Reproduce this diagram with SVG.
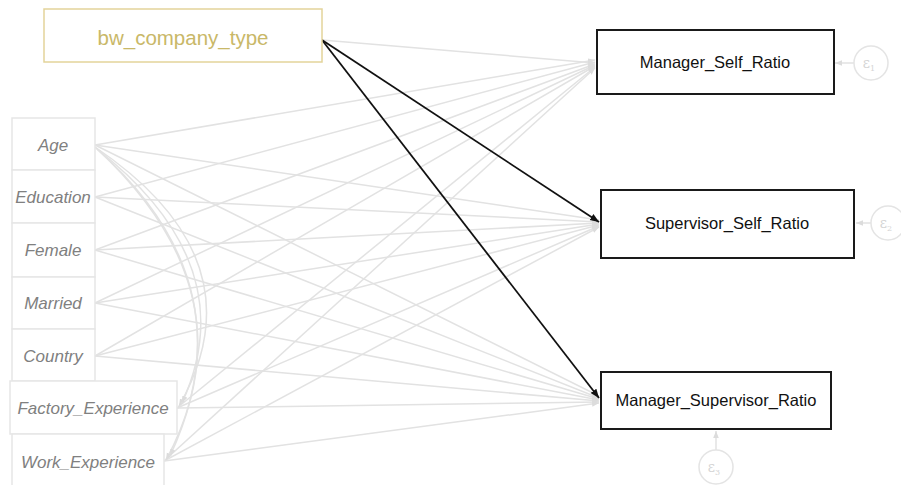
<svg xmlns="http://www.w3.org/2000/svg" width="901" height="485" viewBox="0 0 901 485">
<defs>
<marker id="ag" viewBox="0 0 10 10" refX="10" refY="5" markerWidth="7" markerHeight="7" orient="auto" markerUnits="userSpaceOnUse"><path d="M0,1 L10,5 L0,9 z" fill="#dcdcdc"/></marker>
<marker id="ab" viewBox="0 0 10 10" refX="10" refY="5" markerWidth="9" markerHeight="9" orient="auto" markerUnits="userSpaceOnUse"><path d="M0,1 L10,5 L0,9 z" fill="#111"/></marker>
</defs>
<style>
.g{stroke:#e2e2e2;stroke-width:1.5;fill:none;marker-end:url(#ag)}
.k{stroke:#111;stroke-width:1.8;fill:none;marker-end:url(#ab)}
.lb{fill:#fff;stroke:#e6e6e6;stroke-width:1.5}
.lt{font-family:"Liberation Sans",Arial,sans-serif;font-style:italic;font-size:17px;fill:#808080;text-anchor:middle}
.rb{fill:#fff;stroke:#1a1a1a;stroke-width:2}
.rt{font-family:"Liberation Sans",Arial,sans-serif;font-size:16.5px;fill:#111;text-anchor:middle}
.ec{fill:#fff;stroke:#e4e4e4;stroke-width:1.5}
.et{font-family:"DejaVu Serif",serif;font-size:14px;fill:#d4d4d4;text-anchor:middle}
</style>
<g id="connectors">
<line class="g" x1="322" y1="40" x2="595" y2="63"/>
<line class="g" x1="95" y1="145" x2="595" y2="60"/>
<line class="g" x1="95" y1="145" x2="599" y2="220"/>
<line class="g" x1="95" y1="145" x2="599" y2="396"/>
<line class="g" x1="95" y1="197" x2="595" y2="62"/>
<line class="g" x1="95" y1="197" x2="599" y2="222"/>
<line class="g" x1="95" y1="197" x2="599" y2="398"/>
<line class="g" x1="95" y1="250" x2="595" y2="64"/>
<line class="g" x1="95" y1="250" x2="599" y2="223"/>
<line class="g" x1="95" y1="250" x2="599" y2="399"/>
<line class="g" x1="95" y1="303" x2="595" y2="65"/>
<line class="g" x1="95" y1="303" x2="599" y2="224"/>
<line class="g" x1="95" y1="303" x2="599" y2="400"/>
<line class="g" x1="95" y1="356" x2="595" y2="66"/>
<line class="g" x1="95" y1="356" x2="599" y2="225"/>
<line class="g" x1="95" y1="356" x2="599" y2="401"/>
<line class="g" x1="177" y1="408" x2="595" y2="67"/>
<line class="g" x1="177" y1="408" x2="599" y2="226"/>
<line class="g" x1="177" y1="408" x2="599" y2="402"/>
<line class="g" x1="164" y1="461" x2="595" y2="68"/>
<line class="g" x1="164" y1="461" x2="599" y2="227"/>
<line class="g" x1="164" y1="461" x2="599" y2="403"/>
<path class="g" d="M95,147 Q262,260 179,406"/>
<path class="g" d="M95,147 Q255,295 166,460"/>
<path class="g" d="M97,149 Q250,285 170,456"/>
<path class="g" d="M97,149 Q245,265 182,403"/>
<line class="k" x1="322" y1="40" x2="599" y2="222"/>
<line class="k" x1="322" y1="40" x2="599" y2="398"/>
<line class="g" x1="854" y1="63" x2="835" y2="63"/>
<line class="g" x1="871" y1="223" x2="856" y2="223"/>
<line class="g" x1="716" y1="450" x2="716" y2="431"/>
</g>
<g id="bw_company_type"><rect x="44" y="9" width="278" height="53" fill="#fff" stroke="#e3d49a" stroke-width="1.5"/><text x="183" y="45" font-family="Liberation Sans,Arial,sans-serif" font-size="20.5" fill="#c9b868" text-anchor="middle">bw_company_type</text></g>
<g id="Age"><rect class="lb" x="12" y="118" width="83" height="52"/><text class="lt" x="53" y="151">Age</text></g>
<g id="Education"><rect class="lb" x="12" y="170" width="83" height="53"/><text class="lt" x="53" y="203">Education</text></g>
<g id="Female"><rect class="lb" x="12" y="223" width="83" height="54"/><text class="lt" x="53" y="256">Female</text></g>
<g id="Married"><rect class="lb" x="12" y="277" width="83" height="52"/><text class="lt" x="53" y="309">Married</text></g>
<g id="Country"><rect class="lb" x="12" y="329" width="83" height="52"/><text class="lt" x="53" y="362">Country</text></g>
<g id="Factory_Experience"><rect class="lb" x="10" y="381" width="167" height="53"/><text class="lt" x="93" y="414">Factory_Experience</text></g>
<g id="Work_Experience"><rect class="lb" x="12" y="434" width="152" height="52"/><text class="lt" x="88" y="468">Work_Experience</text></g>
<g id="Manager_Self_Ratio"><rect class="rb" x="597" y="30" width="237" height="64"/><text class="rt" x="715" y="68">Manager_Self_Ratio</text></g>
<g id="Supervisor_Self_Ratio"><rect class="rb" x="601" y="190" width="253" height="68"/><text class="rt" x="727" y="229">Supervisor_Self_Ratio</text></g>
<g id="Manager_Supervisor_Ratio"><rect class="rb" x="601" y="372" width="230" height="57"/><text class="rt" x="716" y="406">Manager_Supervisor_Ratio</text></g>
<g id="e1"><circle class="ec" cx="871" cy="63" r="17"/><text class="et" x="869" y="68">ε<tspan font-size="8" dy="3">1</tspan></text></g>
<g id="e2"><circle class="ec" cx="888" cy="223" r="17"/><text class="et" x="886" y="228">ε<tspan font-size="8" dy="3">2</tspan></text></g>
<g id="e3"><circle class="ec" cx="716" cy="467" r="17"/><text class="et" x="714" y="472">ε<tspan font-size="8" dy="3">3</tspan></text></g>
</svg>
